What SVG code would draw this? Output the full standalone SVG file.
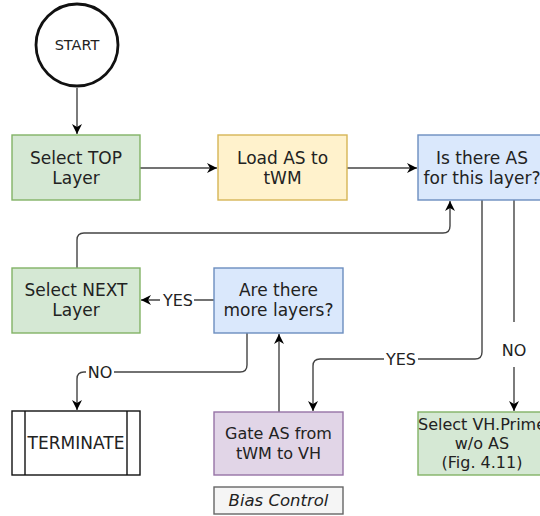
<svg xmlns="http://www.w3.org/2000/svg" width="540" height="516" viewBox="0 0 540 516">
  <style>
    .t { font-family: "DejaVu Sans", Verdana, sans-serif; font-size: 17px; fill: #222; text-anchor: middle; }
    .lbl { font-family: "DejaVu Sans", Verdana, sans-serif; font-size: 16px; fill: #222; text-anchor: middle; }
    .green { fill: #d5e8d4; stroke: #82b366; stroke-width: 1.4; }
    .yellow { fill: #fff2cc; stroke: #d6b656; stroke-width: 1.4; }
    .blue { fill: #dae8fc; stroke: #6c8ebf; stroke-width: 1.4; }
    .purple { fill: #e1d5e7; stroke: #9673a6; stroke-width: 1.4; }
    .grey { fill: #f5f5f5; stroke: #666666; stroke-width: 1.4; }
    .plain { fill: #ffffff; stroke: #111111; stroke-width: 1.4; }
    .edge { fill: none; stroke: #444444; stroke-width: 1.4; }
    .arrow { marker-end: url(#head); }
  </style>
  <defs>
    <marker id="head" viewBox="0 0 10 10" refX="10" refY="5" markerWidth="10" markerHeight="10" markerUnits="userSpaceOnUse" orient="auto">
      <path d="M0,0 L10,5 L0,10 L3,5 Z" fill="#000"/>
    </marker>
  </defs>

  <rect width="540" height="516" fill="#ffffff"/>

  <g id="connectors">
    <path class="edge arrow" d="M77,88 V134"/>
    <path class="edge arrow" d="M140,168 H217"/>
    <path class="edge arrow" d="M347,168 H417"/>
    <path class="edge arrow" d="M77,268 V240 Q77,233 84,233 H443 Q450,233 450,226 V201"/>
    <path class="edge arrow" d="M482,200 V352 Q482,359 475,359 H320 Q313,359 313,366 V411"/>
    <path class="edge arrow" d="M514,200 V411"/>
    <path class="edge arrow" d="M214,300 H141"/>
    <path class="edge arrow" d="M247,333 V365 Q247,372 240,372 H84 Q77,372 77,379 V410"/>
    <path class="edge arrow" d="M279,412 V334"/>
    <g id="edge-labels">
      <rect x="160" y="291" width="34" height="18" fill="#fff"/>
      <text class="lbl" x="178" y="306">YES</text>
      <rect x="86" y="363" width="28" height="18" fill="#fff"/>
      <text class="lbl" x="100" y="378">NO</text>
      <rect x="384" y="350" width="34" height="18" fill="#fff"/>
      <text class="lbl" x="401" y="365">YES</text>
      <rect x="500" y="322" width="28" height="45" fill="#fff"/>
      <text class="lbl" x="514" y="356">NO</text>
    </g>
  </g>

  <g id="start">
    <circle cx="77" cy="45" r="41" fill="#fff" stroke="#111" stroke-width="2.8"/>
    <text class="t" x="77" y="50" style="font-size:14.5px">START</text>
  </g>

  <g id="select-top">
    <rect class="green" x="12" y="135" width="128" height="65"/>
    <text class="t" x="76" y="164">Select TOP</text>
    <text class="t" x="76" y="184">Layer</text>
  </g>

  <g id="load-as">
    <rect class="yellow" x="218" y="135" width="129" height="65"/>
    <text class="t" x="282.5" y="164">Load AS to</text>
    <text class="t" x="282.5" y="184">tWM</text>
  </g>

  <g id="is-there-as">
    <rect class="blue" x="418" y="135" width="128" height="65"/>
    <text class="t" x="482" y="164">Is there AS</text>
    <text class="t" x="482" y="184">for this layer?</text>
  </g>

  <g id="select-next">
    <rect class="green" x="12" y="268" width="128" height="65"/>
    <text class="t" x="76" y="296">Select NEXT</text>
    <text class="t" x="76" y="316">Layer</text>
  </g>

  <g id="more-layers">
    <rect class="blue" x="214" y="268" width="129" height="65"/>
    <text class="t" x="278.5" y="296">Are there</text>
    <text class="t" x="278.5" y="316">more layers?</text>
  </g>

  <g id="terminate">
    <rect class="plain" x="12" y="411" width="128" height="64"/>
    <line x1="25" y1="411" x2="25" y2="475" stroke="#111" stroke-width="1.4"/>
    <line x1="127" y1="411" x2="127" y2="475" stroke="#111" stroke-width="1.4"/>
    <text class="t" x="76" y="449">TERMINATE</text>
  </g>

  <g id="gate-as">
    <rect class="purple" x="214" y="412" width="129" height="63"/>
    <text class="t" x="278.5" y="439" style="font-size:16px">Gate AS from</text>
    <text class="t" x="278.5" y="459" style="font-size:16px">tWM to VH</text>
  </g>

  <g id="bias-control">
    <rect class="grey" x="214" y="487" width="129" height="27"/>
    <text class="t" x="278.5" y="506" style="font-style:italic;font-size:16.5px">Bias Control</text>
  </g>

  <g id="select-vh-prime">
    <rect class="green" x="418" y="412" width="128" height="63"/>
    <text class="t" x="482" y="430" style="font-size:16px">Select VH.Prime</text>
    <text class="t" x="482" y="449" style="font-size:16px">w/o AS</text>
    <text class="t" x="482" y="468" style="font-size:16px">(Fig. 4.11)</text>
  </g>
</svg>
